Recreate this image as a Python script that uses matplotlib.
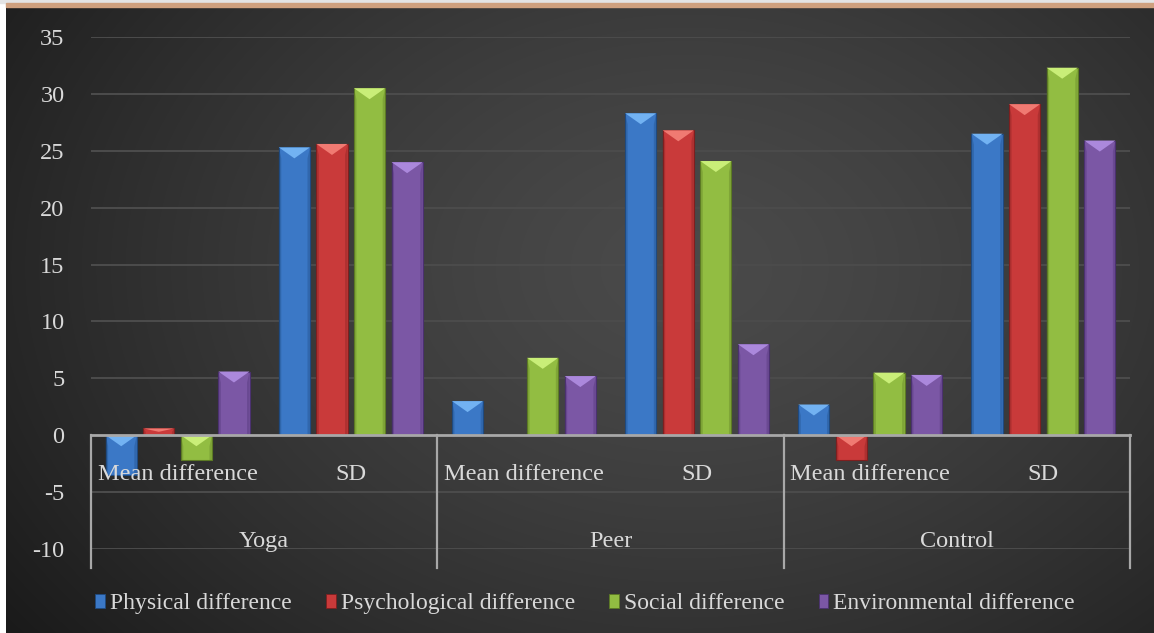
import numpy as np
import matplotlib.pyplot as plt
from matplotlib.patches import Rectangle, Patch

# group / measure labels along the category axis
groups = ["Yoga", "Peer", "Control"]
measures = ["Mean difference", "SD"]

# one list per domain, ordered Yoga MD, Yoga SD, Peer MD, Peer SD, Control MD, Control SD
physical = [-3.5, 25.3, 3.0, 28.3, 2.7, 26.5]
psychological = [0.6, 25.6, 0.0, 26.8, -2.2, 29.1]
social = [-2.2, 30.5, 6.8, 24.1, 5.5, 32.3]
environmental = [5.6, 24.0, 5.2, 8.0, 5.3, 25.9]

series_names = ["Physical difference", "Psychological difference",
                "Social difference", "Environmental difference"]
series_values = [physical, psychological, social, environmental]

yticks = [-10, -5, 0, 5, 10, 15, 20, 25, 30, 35]

# bar body, dark edge, light bevel
colors = ["#3b78c6", "#c93a3a", "#92bd42", "#7b57a5"]
edges = ["#1f4a80", "#7e1f1f", "#5c7a24", "#4b3170"]
lights = ["#72b2f2", "#f07a72", "#c9ee78", "#ab88dc"]

txt = "#d9d9d9"
fs = 17.5
plt.rcParams['font.family'] = ['Liberation Serif', 'DejaVu Serif']
plt.rcParams['axes.unicode_minus'] = False

W, H = 1154, 633
fig = plt.figure(figsize=(W / 100, H / 100), dpi=100)
fig.patch.set_facecolor("white")

# dark radial background of the chart area
bg = fig.add_axes([6 / W, 0, 1 - 6 / W, (H - 7) / H], zorder=-10)
yy, xx = np.mgrid[0:H - 7, 0:W - 6]
r = np.hypot((xx - 680) / 720.0, (yy - 260) / 520.0)
shade = 0.29 - 0.15 * np.clip(r, 0, 1.3) ** 1.4
bg.imshow(np.dstack([shade] * 3), aspect="auto", interpolation="bilinear",
          extent=(0, 1, 0, 1))
bg.set_axis_off()

# thin strips along the top edge
fig.patches.append(Rectangle((0, 1 - 3 / H), 1, 3 / H, color="#e4e4e4",
                             transform=fig.transFigure, zorder=-5))
fig.patches.append(Rectangle((6 / W, 1 - 7 / H), 1, 4 / H, color="#cfa07e",
                             transform=fig.transFigure, zorder=-5))

ax = fig.add_axes([91 / W, 84 / H, 1039 / W, 512 / H])
ax.set_facecolor("none")

n_cat = len(groups) * len(measures)
x = np.arange(n_cat)
pitch = 0.217
width = 0.18
ymin, ymax = -10, 35
ax.set_xlim(-0.5, n_cat - 0.5)
ax.set_ylim(ymin, ymax)

# bevel depth in data units (about 11 px)
bevel = 11 / (512 / (ymax - ymin))

for i, vals in enumerate(series_values):
    offs = (i - 1.5) * pitch
    bars = ax.bar(x + offs, vals, width, color=colors[i], edgecolor=edges[i],
                  linewidth=0.8, zorder=3)
    for p in bars:
        h = p.get_height()
        if h == 0:
            continue
        x0 = p.get_x()
        w = p.get_width()
        top = max(p.get_y(), p.get_y() + h)
        d = min(bevel, abs(h) / 2)
        ax.fill([x0, x0 + w, x0 + w / 2], [top, top, top - d],
                color=lights[i], zorder=4, lw=0)
        # darker side strips
        ax.fill([x0, x0 + w * 0.08, x0 + w * 0.08, x0],
                [top, top - d, top - abs(h), top - abs(h)],
                color=edges[i], alpha=0.35, zorder=4, lw=0)
        ax.fill([x0 + w, x0 + w * 0.92, x0 + w * 0.92, x0 + w],
                [top, top - d, top - abs(h), top - abs(h)],
                color=edges[i], alpha=0.35, zorder=4, lw=0)

# grid lines behind the bars
ax.set_yticks(yticks)
for yt in yticks:
    if yt != 0:
        ax.axhline(yt, color="#4c4c4c", lw=1.4, zorder=0)
ax.tick_params(axis="y", length=0, pad=19, labelsize=fs, labelcolor=txt)

for s in ["top", "right", "left"]:
    ax.spines[s].set_visible(False)
ax.spines["bottom"].set_position(("data", 0))
ax.spines["bottom"].set_color("#a8a8a8")
ax.spines["bottom"].set_linewidth(2)
ax.spines["bottom"].set_zorder(5)

ax.set_xticks(x)
ax.set_xticklabels(measures * len(groups))
ax.tick_params(axis="x", length=0, pad=21, labelsize=fs, labelcolor=txt)
ax.xaxis.set_zorder(6)

# group separators and group names
sep_bottom = ymin - 1.65
for k in range(len(groups) + 1):
    xs = -0.5 + k * len(measures)
    ax.plot([xs, xs], [0, sep_bottom], color="#a8a8a8", lw=1.6,
            clip_on=False, zorder=5)
for k, g in enumerate(groups):
    xc = k * len(measures) + (len(measures) - 1) / 2
    ax.text(xc, ymin + 0.2, g, ha="center", va="baseline", fontsize=fs,
            color=txt, zorder=6)

handles = [Patch(facecolor=colors[i], edgecolor=edges[i], lw=0.6)
           for i in range(len(series_names))]
leg = ax.legend(handles, series_names, loc="center", ncol=4, frameon=False,
                bbox_to_anchor=(0.507, 0.046), bbox_transform=fig.transFigure,
                fontsize=17, handlelength=0.42, handleheight=0.5,
                handletextpad=0.2, columnspacing=1.45)
for t in leg.get_texts():
    t.set_color(txt)

fig.savefig("out.png", dpi=100)
